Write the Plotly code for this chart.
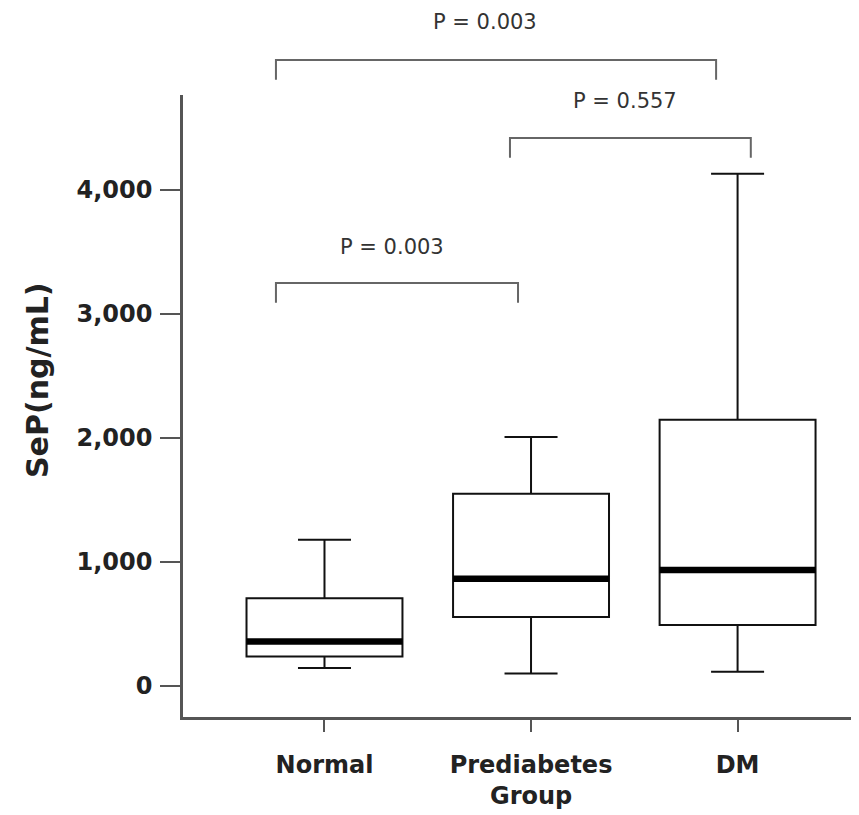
import plotly.graph_objects as go

# ---- data ----
groups = ["Normal", "Prediabetes", "DM"]
lower_whisker = [145, 100, 115]
q1_vals = [238, 556, 492]
median_vals = [358, 865, 935]
q3_vals = [708, 1550, 2148]
upper_whisker = [1180, 2008, 4130]

y_ticks = [0, 1000, 2000, 3000, 4000]

# significance brackets
p_labels = ["P = 0.003", "P = 0.557", "P = 0.003"]
bracket_left = [-0.235, 0.898, -0.235]
bracket_right = [1.896, 2.064, 0.937]
bracket_level = [5048, 4419, 3250]
label_level = [5355, 4718, 3540]
label_x = [0.777, 1.455, 0.327]

# ---- layout constants ----
XMIN, XMAX = -0.685, 2.583
YMIN, YMAX = -250, 4766
BOX_W = 0.755
TICK_DROP = 160
PAGE_OFF = 8  # default page body margin of the html page

ML, MT, MR, MB = 183 - PAGE_OFF, 95 - PAGE_OFF, 1, 98
PLOT_W, PLOT_H = 675, 622

def px_x(v):
    return (v - XMIN) / (XMAX - XMIN)

def px_y(v):
    return (v - YMIN) / (YMAX - YMIN)

xs = list(range(len(groups)))

fig = go.Figure()
fig.add_trace(go.Box(
    x=xs, q1=q1_vals, median=median_vals, q3=q3_vals,
    lowerfence=lower_whisker, upperfence=upper_whisker,
    width=BOX_W, whiskerwidth=0.34, boxpoints=False,
    fillcolor="white", line=dict(color="#111111", width=2),
    showlegend=False, hoverinfo="skip",
))

mx, my = [], []
for i, m in zip(xs, median_vals):
    mx += [i - BOX_W / 2, i + BOX_W / 2, None]
    my += [m, m, None]
fig.add_trace(go.Scatter(x=mx, y=my, mode="lines",
                         line=dict(color="black", width=6.5),
                         showlegend=False, hoverinfo="skip"))

shapes = []
annotations = []
for lab, l, r, lev, llev, lx in zip(p_labels, bracket_left, bracket_right,
                                     bracket_level, label_level, label_x):
    path = "M {a},{b} L {a},{c} L {d},{c} L {d},{b}".format(
        a=px_x(l), b=px_y(lev - TICK_DROP), c=px_y(lev), d=px_x(r))
    shapes.append(dict(type="path", xref="paper", yref="paper", path=path,
                       line=dict(color="#666666", width=2)))
    annotations.append(dict(text=lab, xref="paper", yref="paper",
                            x=px_x(lx), y=px_y(llev), showarrow=False,
                            xanchor="center", yanchor="middle",
                            font=dict(family="DejaVu Sans", size=21, color="#333333")))

annotations.append(dict(text="SeP(ng/mL)", xref="paper", yref="paper",
                        x=(37 - 183) / PLOT_W, y=(717 - 380) / PLOT_H, textangle=-90,
                        showarrow=False, xanchor="center", yanchor="middle",
                        font=dict(family="DejaVu Sans", size=30, color="#222222",
                                  weight="bold")))
annotations.append(dict(text="Group", xref="paper", yref="paper",
                        x=(531 - 183) / PLOT_W, y=(717 - 796) / PLOT_H,
                        showarrow=False, xanchor="center", yanchor="middle",
                        font=dict(family="DejaVu Sans", size=24, color="#222222",
                                  weight="bold")))

fig.update_layout(
    width=ML + PLOT_W + MR, height=MT + PLOT_H + MB,
    margin=dict(l=ML, r=MR, t=MT, b=MB),
    paper_bgcolor="white", plot_bgcolor="white",
    shapes=shapes, annotations=annotations,
    showlegend=False,
    xaxis=dict(range=[XMIN, XMAX], tickvals=xs, ticktext=groups,
               showline=True, linecolor="#555555", linewidth=2.5,
               ticks="outside", ticklen=12, tickwidth=2, tickcolor="#555555",
               ticklabelstandoff=12, showgrid=False, zeroline=False,
               tickfont=dict(family="DejaVu Sans", size=24, color="#222222",
                             weight="bold")),
    yaxis=dict(range=[YMIN, YMAX], tickvals=y_ticks, tickformat=",d",
               showline=True, linecolor="#555555", linewidth=2.5,
               ticks="outside", ticklen=20, tickwidth=2, tickcolor="#555555",
               ticklabelstandoff=3, showgrid=False, zeroline=False,
               tickfont=dict(family="DejaVu Sans", size=24, color="#222222",
                             weight="bold")),
)

fig.write_html("out.html")
